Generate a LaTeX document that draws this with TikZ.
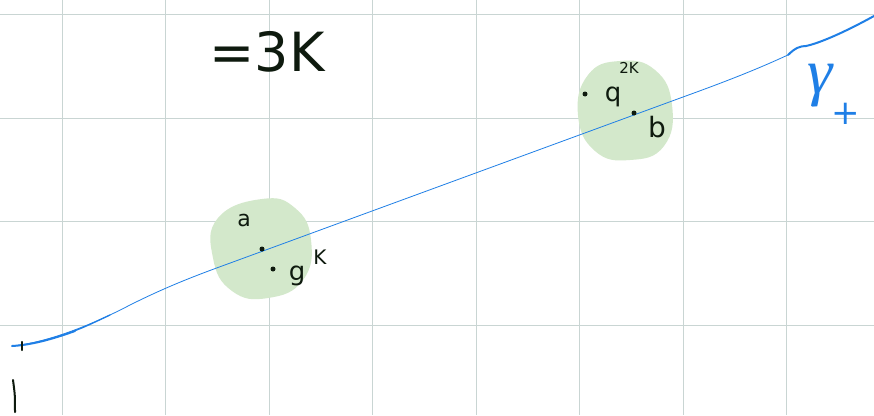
\documentclass[tikz,border=0pt]{standalone}
\usepackage{fontspec}
\setsansfont{DejaVu Sans}
\newfontfamily\gfont{Liberation Serif}
\definecolor{gridc}{HTML}{C9D5D3}
\definecolor{blobc}{HTML}{D3E8CB}
\definecolor{curvec}{HTML}{1F7FE6}
\definecolor{inkc}{HTML}{0E1A0E}
\tikzset{
  ink/.style={text=inkc, inner sep=0pt, font=\sffamily},
  dotm/.style={circle, fill=inkc, inner sep=0pt, minimum size=5pt},
  blob/.style={fill=blobc, draw=none},
}
\begin{document}
\begin{tikzpicture}[x=1pt,y=-1pt]
\useasboundingbox (0,0) rectangle (874,415);
\fill[white] (0,0) rectangle (874,415);
% grid
\foreach \gx in {62,165.5,269,372.5,476,579.5,683,786.5}
  \draw[gridc, line width=0.9pt] (\gx,0) -- (\gx,415);
\foreach \gy in {14.5,118,221.5,325}
  \draw[gridc, line width=0.9pt] (0,\gy) -- (874,\gy);
% green blobs
\fill[blob] plot[smooth cycle, tension=0.8] coordinates {(262,199) (295,208) (311,240) (303,280) (268,298) (232,291) (213,258) (218,218)};
\fill[blob] plot[smooth cycle, tension=0.8] coordinates {(620,61) (655,70) (672,105) (664,146) (630,160) (595,151) (578,115) (588,75)};
% curve
\coordinate (c0) at (12,346);
\coordinate (c1) at (130,305);
\coordinate (c2) at (233,262);
\coordinate (c3) at (683,97);
\coordinate (c4) at (790,54);
\draw[curvec, line width=0.8pt] (c0) .. controls (45,343) and (90,326) .. (c1)
  .. controls (170,285) and (200,274) .. (c2) -- (c3)
  .. controls (730,80) and (760,68) .. (c4);
\draw[curvec, line width=2pt, line cap=round] (c0) .. controls (30,345) and (50,340) .. (75,331);
\draw[curvec, line width=1.3pt, line cap=round] (74,331) .. controls (85,327) and (95,322) .. (110,315);
\draw[curvec, line width=2pt, line cap=round] (788,55) .. controls (795,48) and (800,46) .. (806,46)
  .. controls (820,43) and (845,32) .. (874,16);
% marks at left
\draw[inkc, line width=2.2pt, line cap=round] (22,342) -- (22,350);
\draw[inkc, line width=2pt, line cap=round] (13,380) .. controls (15,395) .. (15,412);
% text =3K
\node[ink, font=\sffamily\fontsize{54}{54}\selectfont] (eq) at (267,52) {=3K};
% first blob labels
\node[ink, font=\sffamily\fontsize{22}{22}\selectfont] (a) at (244,220) {a};
\node[dotm] (da) at (262,249) {};
\node[dotm] (dg) at (273,269) {};
\node[ink, font=\sffamily\fontsize{26}{26}\selectfont] (g) at (297,276) {g};
\node[ink, font=\sffamily\fontsize{20}{20}\selectfont] (k1) at (320,257) {K};
% second blob labels
\node[dotm] (dq) at (585,94) {};
\node[ink, font=\sffamily\fontsize{26}{26}\selectfont] (q) at (613,97) {q};
\node[ink, font=\sffamily\fontsize{15}{15}\selectfont] (k2) at (629,68) {2K};
\node[dotm] (db) at (634,113) {};
\node[ink, font=\sffamily\fontsize{28}{28}\selectfont] (b) at (657,127) {b};
% gamma
\node[text=curvec, inner sep=0pt, font=\gfont\itshape\fontsize{64}{64}\selectfont] (gam) at (820,86) {γ};
\node[text=curvec, inner sep=0pt, font=\sffamily\fontsize{34}{34}\selectfont] (plus) at (846,114) {+};
\end{tikzpicture}
\end{document}
